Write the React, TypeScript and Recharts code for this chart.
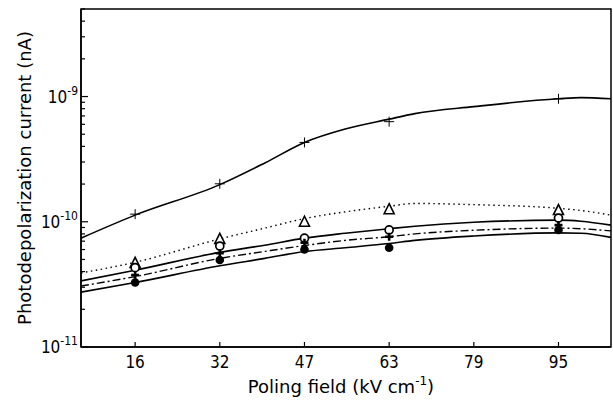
import { ComposedChart, Line, Scatter, XAxis, YAxis, ReferenceArea, Label } from 'recharts'

// fitted curves
const curveX = [5.7, 15.8, 31.6, 40, 47.4, 55, 63.2, 68, 79, 94.8, 99, 104.6]
const curveTop = [7.4e-11, 1.13e-10, 1.98e-10, 2.95e-10, 4.3e-10, 5.5e-10, 6.6e-10, 7.3e-10, 8.3e-10, 9.6e-10, 9.8e-10, 9.6e-10]
const curveDotted = [3.9e-11, 4.75e-11, 7.3e-11, 8.9e-11, 1.06e-10, 1.2e-10, 1.33e-10, 1.4e-10, 1.37e-10, 1.28e-10, 1.23e-10, 1.13e-10]
const curveUpper = [3.37e-11, 4.1e-11, 5.7e-11, 6.5e-11, 7.4e-11, 8.1e-11, 8.8e-11, 9.2e-11, 9.9e-11, 1.03e-10, 1.01e-10, 9.4e-11]
const curveDashDot = [3.07e-11, 3.65e-11, 5.1e-11, 5.8e-11, 6.46e-11, 7.1e-11, 7.6e-11, 8.0e-11, 8.55e-11, 8.9e-11, 8.8e-11, 8.45e-11]
const curveLower = [2.74e-11, 3.27e-11, 4.45e-11, 5.1e-11, 5.78e-11, 6.2e-11, 6.7e-11, 7.1e-11, 7.7e-11, 8.15e-11, 8.1e-11, 7.5e-11]

// measured points
const markerX = [15.8, 31.6, 47.4, 63.2, 94.8]
const plusVals = [1.15e-10, 2.01e-10, 4.3e-10, 6.3e-10, 9.6e-10]
const triVals = [4.7e-11, 7.3e-11, 1.0e-10, 1.26e-10, 1.24e-10]
const openVals = [4.3e-11, 6.4e-11, 7.4e-11, 8.6e-11, 1.07e-10]
const crossVals = [3.75e-11, 5.6e-11, 6.8e-11, 7.6e-11, 9.4e-11]
const filledVals = [3.27e-11, 4.95e-11, 6.0e-11, 6.2e-11, 8.6e-11]

const xTicks = [15.8, 31.6, 47.4, 63.2, 79, 94.8]
const xTickLabels = ['16', '32', '47', '63', '79', '95']
const yTicks = [
	1e-11, 2e-11, 3e-11, 4e-11, 5e-11, 6e-11, 7e-11, 8e-11, 9e-11,
	1e-10, 2e-10, 3e-10, 4e-10, 5e-10, 6e-10, 7e-10, 8e-10, 9e-10,
	1e-9, 2e-9, 3e-9, 4e-9, 5e-9,
]

const FONT = '"DejaVu Sans", sans-serif'
const NARROW = '"DejaVu Sans Condensed", "DejaVu Sans", sans-serif'

const curveData = curveX.map((x, i) => ({
	x,
	top: curveTop[i],
	dotted: curveDotted[i],
	upper: curveUpper[i],
	dashdot: curveDashDot[i],
	lower: curveLower[i],
}))
const pts = (vals: number[]) => markerX.map((x, i) => ({ x, y: vals[i] }))

const PlusShape = (p: any) => (
	<path d={`M${p.cx - 5},${p.cy}H${p.cx + 5}M${p.cx},${p.cy - 5}V${p.cy + 5}`} stroke="#000" strokeWidth={1} />
)
const TriShape = (p: any) => (
	<path d={`M${p.cx},${p.cy - 5.5}L${p.cx + 5},${p.cy + 4.5}L${p.cx - 5},${p.cy + 4.5}Z`} stroke="#000" strokeWidth={1.6} fill="#fff" />
)
const OpenShape = (p: any) => <circle cx={p.cx} cy={p.cy} r={4} stroke="#000" strokeWidth={1.7} fill="#fff" />
const CrossShape = (p: any) => (
	<path d={`M${p.cx - 4},${p.cy}H${p.cx + 4}M${p.cx},${p.cy - 4}V${p.cy + 4}`} stroke="#000" strokeWidth={2.6} />
)
const FilledShape = (p: any) => <circle cx={p.cx} cy={p.cy} r={4.3} fill="#000" />

const YTick = (props: any) => {
	const { x, y, payload } = props
	const v = payload.value
	const exp = Math.round(Math.log10(v))
	const major = Math.abs(v - Math.pow(10, exp)) / v < 1e-6
	return (
		<g>
			<line x1={x} x2={x + (major ? 7 : 4)} y1={y} y2={y} stroke="#000" strokeWidth={1.2} />
			{major && (
				<text x={x - 3} y={y + 6} textAnchor="end" fontFamily={NARROW} fontSize={17} fill="#000">
					10
					<tspan dy={-8} fontSize={12}>
						{exp}
					</tspan>
				</text>
			)}
		</g>
	)
}

const XTick = (props: any) => {
	const { x, y, payload } = props
	const idx = xTicks.indexOf(payload.value)
	return (
		<g>
			<line x1={x} x2={x} y1={y} y2={y - 5} stroke="#000" strokeWidth={1.2} />
			<text x={x} y={y + 21} textAnchor="middle" fontFamily={NARROW} fontSize={17} fill="#000">
				{xTickLabels[idx]}
			</text>
		</g>
	)
}

const XTitle = (props: any) => {
	const { viewBox } = props
	const cx = viewBox.x + viewBox.width / 2 - 5
	return (
		<text x={cx} y={viewBox.y + 46} textAnchor="middle" fontFamily={FONT} fontSize={18} fill="#000">
			Poling field (kV cm
			<tspan dy={-8} fontSize={12}>
				-1
			</tspan>
			<tspan dy={8}>)</tspan>
		</text>
	)
}

const YTitle = (props: any) => {
	const { viewBox } = props
	const cy = viewBox.y + viewBox.height / 2
	return (
		<text
			x={24}
			y={cy}
			transform={`rotate(-90 24 ${cy})`}
			textAnchor="middle"
			dominantBaseline="central"
			fontFamily={FONT}
			fontSize={18}
			fill="#000"
		>
			Photodepolarization current (nA)
		</text>
	)
}

const App = () => {
	return (
		<div style={{ position: 'absolute', left: 0, top: 0, width: 613, height: 403, background: '#fff' }}>
			<ComposedChart width={613} height={403} data={curveData} margin={{ top: 9, right: 2, left: 0, bottom: 0 }}>
				<XAxis
					dataKey="x"
					type="number"
					domain={[5.7, 104.6]}
					ticks={xTicks}
					interval={0}
					allowDataOverflow
					height={56}
					tickLine={false}
					tickSize={0}
					tickMargin={0}
					axisLine={{ stroke: '#000', strokeWidth: 1.5 }}
					tick={<XTick />}
				>
					<Label content={<XTitle />} />
				</XAxis>
				<YAxis
					type="number"
					scale="log"
					domain={[1e-11, 5e-9]}
					ticks={yTicks}
					interval={0}
					allowDataOverflow
					width={81}
					tickLine={false}
					tickSize={0}
					tickMargin={0}
					axisLine={{ stroke: '#000', strokeWidth: 1.5 }}
					tick={<YTick />}
				>
					<Label content={<YTitle />} />
				</YAxis>
				<ReferenceArea x1={5.7} x2={104.6} y1={1e-11} y2={5e-9} fill="none" stroke="#000" strokeWidth={1.5} />
				<Line dataKey="top" type="monotone" stroke="#000" strokeWidth={1.6} dot={false} isAnimationActive={false} />
				<Line dataKey="dotted" type="monotone" stroke="#000" strokeWidth={1.4} strokeDasharray="1.5 3.5" dot={false} isAnimationActive={false} />
				<Line dataKey="upper" type="monotone" stroke="#000" strokeWidth={1.6} dot={false} isAnimationActive={false} />
				<Line dataKey="dashdot" type="monotone" stroke="#000" strokeWidth={1.4} strokeDasharray="8 3 2 3" dot={false} isAnimationActive={false} />
				<Line dataKey="lower" type="monotone" stroke="#000" strokeWidth={1.6} dot={false} isAnimationActive={false} />
				<Scatter data={pts(plusVals)} dataKey="y" shape={<PlusShape />} isAnimationActive={false} />
				<Scatter data={pts(triVals)} dataKey="y" shape={<TriShape />} isAnimationActive={false} />
				<Scatter data={pts(openVals)} dataKey="y" shape={<OpenShape />} isAnimationActive={false} />
				<Scatter data={pts(crossVals)} dataKey="y" shape={<CrossShape />} isAnimationActive={false} />
				<Scatter data={pts(filledVals)} dataKey="y" shape={<FilledShape />} isAnimationActive={false} />
			</ComposedChart>
		</div>
	)
}

export default App
